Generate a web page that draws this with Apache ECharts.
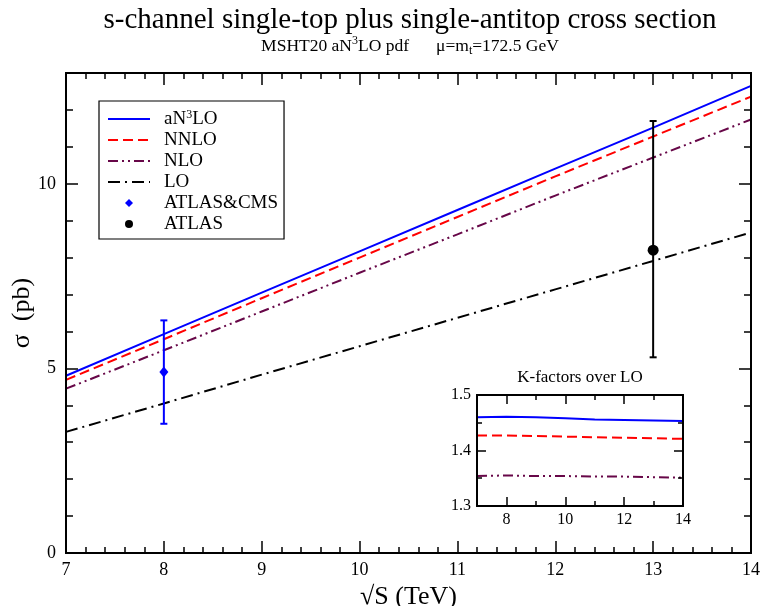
<!DOCTYPE html>
<html><head><meta charset="utf-8">
<script src="https://cdn.jsdelivr.net/npm/echarts@6/dist/echarts.min.js"></script>
<style>html,body{margin:0;padding:0;background:#fff}#c{width:763px;height:606px}</style>
</head><body><div id="c"></div>
<script>
// ---- data ----
const sqrtS = [7, 8, 9, 10, 11, 12, 13, 14];
const an3lo = [4.80, 5.93, 7.05, 8.17, 9.29, 10.41, 11.52, 12.65];
const nnlo  = [4.69, 5.79, 6.90, 8.00, 9.10, 10.20, 11.28, 12.36];
const nlo   = [4.45, 5.49, 6.54, 7.59, 8.63, 9.68, 10.71, 11.74];
const lo    = [3.28, 4.05, 4.83, 5.60, 6.37, 7.14, 7.91, 8.68];
const kAn3lo = [1.460, 1.461, 1.460, 1.458, 1.456, 1.455, 1.454, 1.453];
const kNnlo  = [1.427, 1.427, 1.426, 1.425, 1.424, 1.423, 1.422, 1.421];
const kNlo   = [1.354, 1.355, 1.354, 1.354, 1.353, 1.353, 1.352, 1.351];
const atlasCms = [8, 4.9];
const atlasCmsErr = [3.5, 6.3];
const atlas = [13, 8.2];
const atlasErr = [5.3, 11.7];
const mainYLabels = [0, 5, 10];
const insetXLabels = [8, 10, 12, 14];

const FF = 'Liberation Serif';
const BLK = '#000';
const pairs = (ys) => sqrtS.map((x, i) => [x, ys[i]]);

function axisBase(extra) {
  return Object.assign({
    type: 'value',
    z: 5,
    splitLine: { show: false },
    minorSplitLine: { show: false },
    axisLine: { show: true, onZero: false, lineStyle: { color: BLK, width: 2 } },
    axisTick: { show: true, inside: true, length: 12, lineStyle: { color: BLK, width: 1.5 } },
    axisLabel: { show: false, color: BLK, fontFamily: FF, fontSize: 18 }
  }, extra);
}

const xAxes = [
  // main bottom
  axisBase({ gridIndex: 0, position: 'bottom', min: 7, max: 14, interval: 1,
    minorTick: { show: true, splitNumber: 5, length: 6, lineStyle: { color: BLK, width: 1.5 } },
    axisLabel: { show: true, color: BLK, fontFamily: FF, fontSize: 18, margin: 8 },
    name: '\u221AS (TeV)', nameLocation: 'middle', nameGap: 31, nameMoveOverlap: false,
    nameTextStyle: { fontFamily: FF, fontSize: 26, color: BLK } }),
  // main top
  axisBase({ gridIndex: 0, position: 'top', min: 7, max: 14, interval: 1,
    minorTick: { show: true, splitNumber: 5, length: 6, lineStyle: { color: BLK, width: 1.5 } } }),
  // inset bottom minor + labels
  axisBase({ gridIndex: 1, position: 'bottom', min: 7, max: 14, interval: 1,
    axisTick: { show: true, inside: true, length: 5, lineStyle: { color: BLK, width: 1.5 } },
    axisLabel: { show: true, customValues: insetXLabels, color: BLK, fontFamily: FF, fontSize: 16, margin: 6 } }),
  // inset bottom major
  axisBase({ gridIndex: 1, position: 'bottom', min: 7, max: 14, interval: 1,
    axisTick: { show: true, inside: true, length: 9, customValues: insetXLabels, lineStyle: { color: BLK, width: 1.5 } } }),
  // inset top minor
  axisBase({ gridIndex: 1, position: 'top', min: 7, max: 14, interval: 1,
    axisTick: { show: true, inside: true, length: 5, lineStyle: { color: BLK, width: 1.5 } } }),
  // inset top major
  axisBase({ gridIndex: 1, position: 'top', min: 7, max: 14, interval: 1,
    axisTick: { show: true, inside: true, length: 9, customValues: insetXLabels, lineStyle: { color: BLK, width: 1.5 } } })
];

const yAxes = [
  // main left major + labels
  axisBase({ gridIndex: 0, position: 'left', min: 0, max: 13, interval: 1,
    axisTick: { show: true, inside: true, length: 12, customValues: mainYLabels, lineStyle: { color: BLK, width: 1.5 } },
    axisLabel: { show: true, customValues: mainYLabels, color: BLK, fontFamily: FF, fontSize: 18, margin: 10 },
    name: '\u03C3  (pb)', nameLocation: 'middle', nameGap: 31, nameRotate: 90, nameMoveOverlap: false,
    nameTextStyle: { fontFamily: FF, fontSize: 26, color: BLK } }),
  // main left minor
  axisBase({ gridIndex: 0, position: 'left', min: 0, max: 13, interval: 1,
    axisTick: { show: true, inside: true, length: 7, lineStyle: { color: BLK, width: 1.5 } } }),
  // main right major
  axisBase({ gridIndex: 0, position: 'right', min: 0, max: 13, interval: 1,
    axisTick: { show: true, inside: true, length: 12, customValues: mainYLabels, lineStyle: { color: BLK, width: 1.5 } } }),
  // main right minor
  axisBase({ gridIndex: 0, position: 'right', min: 0, max: 13, interval: 1,
    axisTick: { show: true, inside: true, length: 7, lineStyle: { color: BLK, width: 1.5 } } }),
  // inset left
  axisBase({ gridIndex: 1, position: 'left', min: 1.3, max: 1.5, interval: 0.1,
    axisTick: { show: true, inside: true, length: 9, lineStyle: { color: BLK, width: 1.5 } },
    minorTick: { show: true, splitNumber: 2, length: 5, lineStyle: { color: BLK, width: 1.5 } },
    axisLabel: { show: true, color: BLK, fontFamily: FF, fontSize: 16, margin: 6 } }),
  // inset right
  axisBase({ gridIndex: 1, position: 'right', min: 1.3, max: 1.5, interval: 0.1,
    axisTick: { show: true, inside: true, length: 9, lineStyle: { color: BLK, width: 1.5 } },
    minorTick: { show: true, splitNumber: 2, length: 5, lineStyle: { color: BLK, width: 1.5 } } })
];

const styles = {
  an3lo: { color: '#0000ff', width: 2, type: 'solid' },
  nnlo: { color: '#ff0000', width: 2, type: [10, 5] },
  nlo: { color: '#670748', width: 2, type: [10, 4, 2, 4, 2, 4] },
  lo: { color: '#000000', width: 2, type: [12, 5, 2, 5] }
};

function lineSeries(name, data, st, xi, yi) {
  return {
    type: 'line', name: name, data: data, xAxisIndex: xi, yAxisIndex: yi,
    symbol: 'none', lineStyle: { color: st.color, width: st.width, type: st.type },
    itemStyle: { color: st.color }, z: 3, silent: true
  };
}

function errRender(params, api) {
  const x = api.value(0), lo_ = api.value(1), hi_ = api.value(2);
  const a = api.coord([x, hi_]);
  const b = api.coord([x, lo_]);
  const c = api.visual('color');
  const w = 3.5;
  const st = { stroke: c, lineWidth: 2 };
  return {
    type: 'group', children: [
      { type: 'line', shape: { x1: a[0], y1: a[1], x2: b[0], y2: b[1] }, style: st },
      { type: 'line', shape: { x1: a[0] - w, y1: a[1], x2: a[0] + w, y2: a[1] }, style: st },
      { type: 'line', shape: { x1: b[0] - w, y1: b[1], x2: b[0] + w, y2: b[1] }, style: st }
    ]
  };
}

const series = [
  lineSeries('aN3LO', pairs(an3lo), styles.an3lo, 0, 0),
  lineSeries('NNLO', pairs(nnlo), styles.nnlo, 0, 0),
  lineSeries('NLO', pairs(nlo), styles.nlo, 0, 0),
  lineSeries('LO', pairs(lo), styles.lo, 0, 0),
  { type: 'custom', name: 'errCMS', xAxisIndex: 0, yAxisIndex: 0, renderItem: errRender,
    data: [[atlasCms[0], atlasCmsErr[0], atlasCmsErr[1]]], encode: { x: 0, y: [1, 2] },
    itemStyle: { color: '#0000ff' }, z: 4, silent: true },
  { type: 'custom', name: 'errATLAS', xAxisIndex: 0, yAxisIndex: 0, renderItem: errRender,
    data: [[atlas[0], atlasErr[0], atlasErr[1]]], encode: { x: 0, y: [1, 2] },
    itemStyle: { color: '#000000' }, z: 4, silent: true },
  { type: 'line', name: 'ATLAS&CMS', xAxisIndex: 0, yAxisIndex: 0, data: [atlasCms],
    symbol: 'diamond', symbolSize: [9, 11], lineStyle: { width: 0 },
    itemStyle: { color: '#0000ff' }, z: 5, silent: true },
  { type: 'line', name: 'ATLAS', xAxisIndex: 0, yAxisIndex: 0, data: [atlas],
    symbol: 'circle', symbolSize: 11, lineStyle: { width: 0 },
    itemStyle: { color: '#000000' }, z: 5, silent: true },
  lineSeries('K aN3LO', pairs(kAn3lo), styles.an3lo, 2, 4),
  lineSeries('K NNLO', pairs(kNnlo), styles.nnlo, 2, 4),
  lineSeries('K NLO', pairs(kNlo), styles.nlo, 2, 4)
];

const chart = echarts.init(document.getElementById('c'), null, { renderer: 'canvas' });
chart.setOption({
  animation: false,
  backgroundColor: '#fff',
  grid: [
    { left: 66, right: 12, top: 73, bottom: 53, outerBoundsMode: 'none', containLabel: false },
    { left: 477, width: 206, top: 395, height: 111, outerBoundsMode: 'none', containLabel: false }
  ],
  xAxis: xAxes,
  yAxis: yAxes,
  legend: {
    orient: 'vertical', left: 99, top: 101, padding: [8, 6, 5, 8],
    itemWidth: 42, itemHeight: 10, itemGap: 2,
    borderColor: BLK, borderWidth: 1.2, backgroundColor: '#fff',
    selectedMode: false,
    data: [
      { name: 'aN3LO', itemStyle: { opacity: 0 } },
      { name: 'NNLO', itemStyle: { opacity: 0 } },
      { name: 'NLO', itemStyle: { opacity: 0 } },
      { name: 'LO', itemStyle: { opacity: 0 } },
      { name: 'ATLAS&CMS' },
      { name: 'ATLAS' }
    ],
    formatter: function (n) {
      return n === 'aN3LO' ? '{t|aN}{s|3}{t|LO}' : '{t|' + n + '}';
    },
    textStyle: {
      color: BLK, fontFamily: FF, fontSize: 19, padding: [0, 0, 0, 9],
      rich: {
        t: { fontFamily: FF, fontSize: 19, lineHeight: 20, color: BLK, verticalAlign: 'bottom' },
        s: { fontFamily: FF, fontSize: 12, lineHeight: 8, color: BLK, verticalAlign: 'top' }
      }
    }
  },
  graphic: [
    { type: 'text', x: 410, y: 20, z: 10, style: {
        text: 's-channel single-top plus single-antitop cross section',
        fontFamily: FF, fontSize: 29, fill: BLK, align: 'center', verticalAlign: 'middle' } },
    { type: 'text', x: 410, y: 46, z: 10, style: {
        text: '{a|MSHT20 aN}{sup|3}{a|LO pdf}{g|}{a|\u03BC=m}{sub|t}{a|=172.5 GeV}',
        fontFamily: FF, fontSize: 18, fill: BLK, align: 'center', verticalAlign: 'middle',
        rich: {
          a: { fontFamily: FF, fontSize: 17.5, lineHeight: 22, fill: BLK, verticalAlign: 'middle' },
          sup: { fontFamily: FF, fontSize: 12, lineHeight: 8, fill: BLK, verticalAlign: 'top' },
          sub: { fontFamily: FF, fontSize: 12, lineHeight: 8, fill: BLK, verticalAlign: 'bottom' },
          g: { width: 27 }
        } } },
    { type: 'text', x: 580, y: 378, z: 10, style: {
        text: 'K-factors over LO', fontFamily: FF, fontSize: 17, fill: BLK,
        align: 'center', verticalAlign: 'middle' } }
  ],
  series: series
});
</script>
</body></html>
